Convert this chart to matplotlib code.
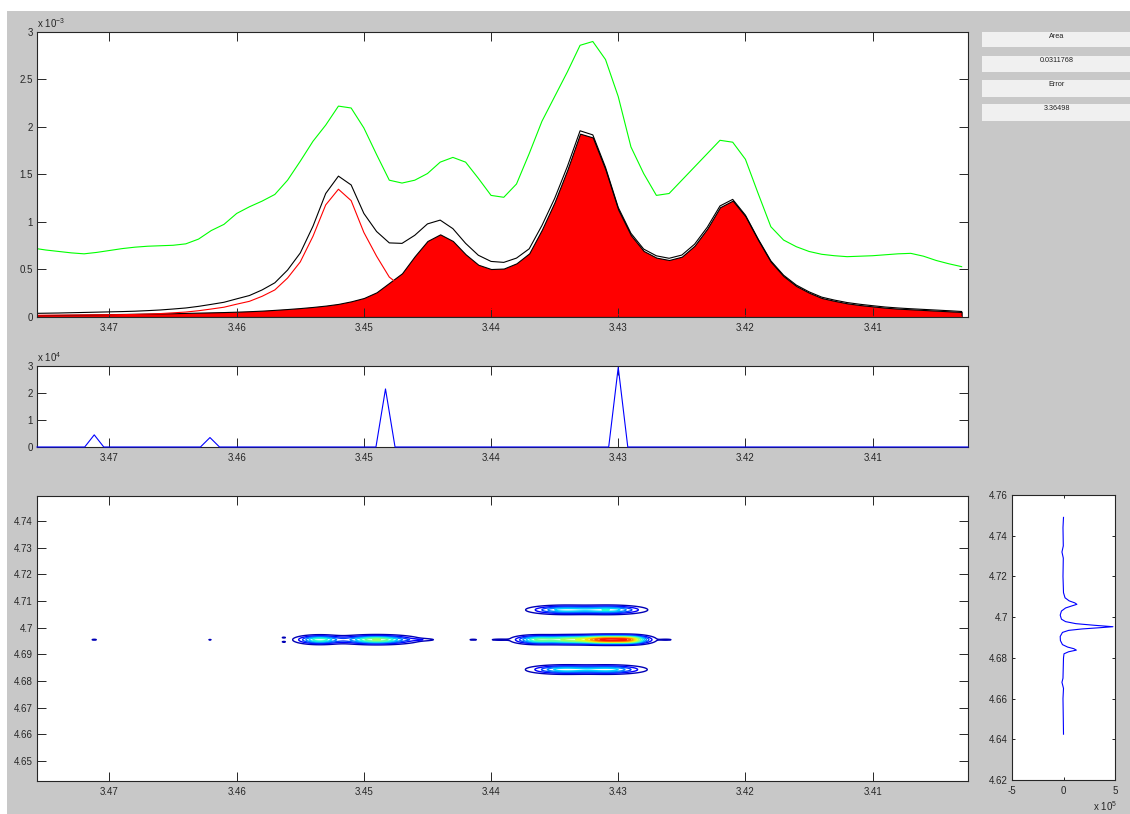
import numpy as np
import matplotlib
matplotlib.use("Agg")
import matplotlib.pyplot as plt
from matplotlib.patches import Rectangle
from matplotlib.ticker import FuncFormatter

plt.rcParams['font.family'] = ['Liberation Sans', 'DejaVu Sans']
plt.rcParams['font.size'] = 7
plt.rcParams['mathtext.fontset'] = 'custom'
plt.rcParams['mathtext.rm'] = 'Liberation Sans'

# 1D fit: chemical shift grid (ppm), values in units of 1e-3
ppm = np.round(np.arange(3.476, 3.4025, -0.001), 3)
measured = [0.725, 0.705, 0.69, 0.675, 0.665, 0.68, 0.70, 0.72, 0.735, 0.745,
            0.75, 0.755, 0.77, 0.82, 0.91, 0.975, 1.09, 1.16, 1.22, 1.29,
            1.44, 1.64, 1.85, 2.02, 2.22, 2.20, 1.99, 1.71, 1.44, 1.41,
            1.44, 1.51, 1.63, 1.68, 1.63, 1.46, 1.28, 1.26, 1.40, 1.72,
            2.06, 2.32, 2.58, 2.86, 2.90, 2.71, 2.32, 1.79, 1.51, 1.28,
            1.30, 1.44, 1.58, 1.72, 1.86, 1.84, 1.66, 1.30, 0.95, 0.81,
            0.74, 0.69, 0.66, 0.645, 0.635, 0.64, 0.645, 0.655, 0.665, 0.67,
            0.64, 0.595, 0.56, 0.53]
peak_a = [0.018, 0.019, 0.020, 0.021, 0.022, 0.023, 0.024, 0.025, 0.027, 0.031,
          0.036, 0.044, 0.052, 0.066, 0.084, 0.103, 0.135, 0.165, 0.218, 0.285,
          0.41, 0.58, 0.85, 1.18, 1.345, 1.225, 0.89, 0.64, 0.42, 0.315,
          0.22, 0.18, 0.15, 0.13, 0.115, 0.10, 0.08, 0.065, 0.055, 0.048,
          0.043, 0.038, 0.034, 0.030, 0.027, 0.025, 0.023, 0.021, 0.020, 0.019,
          0.018, 0.017, 0.016, 0.015, 0.014, 0.013, 0.012, 0.011, 0.011, 0.010,
          0.010, 0.009, 0.009, 0.008, 0.008, 0.008, 0.007, 0.007, 0.007, 0.006,
          0.006, 0.006, 0.006, 0.005]
peaks_bcd = [0.020, 0.021, 0.022, 0.024, 0.026, 0.028, 0.030, 0.032, 0.034, 0.036,
             0.038, 0.040, 0.043, 0.046, 0.049, 0.052, 0.056, 0.061, 0.067, 0.075,
             0.084, 0.094, 0.106, 0.120, 0.138, 0.165, 0.20, 0.26, 0.36, 0.46,
             0.64, 0.80, 0.87, 0.80, 0.66, 0.55, 0.505, 0.51, 0.565, 0.67,
             0.92, 1.21, 1.55, 1.93, 1.89, 1.55, 1.13, 0.86, 0.695, 0.625,
             0.60, 0.635, 0.75, 0.93, 1.155, 1.225, 1.06, 0.81, 0.58, 0.43,
             0.326, 0.256, 0.20, 0.17, 0.144, 0.126, 0.112, 0.098, 0.088, 0.081,
             0.074, 0.067, 0.060, 0.053]
total_fit = np.array(peak_a) + np.array(peaks_bcd)

# picked peaks (x 1e4)
pick_ppm = [3.4712, 3.4621, 3.4483, 3.4300]
pick_height = [0.45, 0.35, 2.15, 2.95]

# 2D cross peaks: centre x, centre y, amplitude, width x, width y
xpk_x = [3.4535, 3.4490,
         3.4365, 3.4340, 3.4310, 3.4290,
         3.4343, 3.4307, 3.4343, 3.4307,
         3.4712, 3.4621, 3.4563, 3.4563, 3.4455, 3.4414, 3.4394, 3.4262]
xpk_y = [4.6955, 4.6955,
         4.6955, 4.6955, 4.6955, 4.6955,
         4.7067, 4.7067, 4.6843, 4.6843,
         4.6955, 4.6955, 4.6963, 4.6947, 4.6955, 4.6955, 4.6955, 4.6955]
xpk_amp = [0.45, 0.55,
           0.40, 0.50, 0.85, 0.55,
           0.36, 0.38, 0.37, 0.36,
           0.07, 0.06, 0.06, 0.06, 0.08, 0.07, 0.08, 0.07]
xpk_wx = [0.0010, 0.0016,
          0.0010, 0.0013, 0.0013, 0.0009,
          0.0015, 0.0015, 0.0015, 0.0015,
          0.0002, 0.00015, 0.00015, 0.00015, 0.0008, 0.0003, 0.0005, 0.0004]
xpk_wy = [0.0009, 0.0009,
          0.0009, 0.0009, 0.0009, 0.0009,
          0.0009, 0.0009, 0.0009, 0.0009,
          0.0002, 0.00015, 0.0002, 0.0002, 0.0003, 0.0002, 0.0002, 0.0002]
contour_levels = [0.05, 0.12, 0.19, 0.26, 0.33, 0.40, 0.47, 0.54, 0.61,
                  0.68, 0.75, 0.82, 0.89, 0.96]

# projection along the indirect dimension (x 1e5)
proj_y = [4.7490, 4.7440, 4.7350, 4.7320, 4.7290, 4.7200, 4.7120, 4.7095, 4.7080,
          4.7070, 4.7063, 4.7055, 4.7045, 4.7030, 4.7010, 4.6990, 4.6978, 4.6968,
          4.6960, 4.6953, 4.6948, 4.6942, 4.6935, 4.6925, 4.6905, 4.6885, 4.6865,
          4.6853, 4.6845, 4.6838, 4.6830, 4.6820, 4.6800, 4.6700, 4.6680, 4.6650,
          4.6600, 4.6500, 4.6425]
proj_val = [0.0, -0.05, -0.02, -0.15, -0.02, -0.05, 0.0, 0.15, 0.55,
            1.1, 1.3, 0.8, 0.2, -0.2, -0.32, -0.2, 0.2, 1.2,
            3.0, 4.8, 3.5, 1.8, 0.5, -0.1, -0.32, -0.3, -0.1,
            0.4, 1.0, 1.25, 0.5, 0.05, 0.0, -0.05, -0.15, 0.0,
            -0.05, -0.02, 0.0]

info_labels = ['Area', '0.0311768', 'Error', '3.36498']

W, H = 1130, 814
fig = plt.figure(figsize=(W / 100, H / 100), dpi=100)
fig.patch.set_facecolor('white')
fig.patches.append(Rectangle((7 / W, 0), 1, (H - 11) / H, transform=fig.transFigure,
                             facecolor='#c8c8c8', edgecolor='none', zorder=-10))

INK = '#262626'
fmt = FuncFormatter(lambda v, p: '%g' % round(v, 4))


def px_axes(x0, y0, x1, y1):
    return fig.add_axes([x0 / W, 1 - y1 / H, (x1 - x0) / W, (y1 - y0) / H])


def matlab_style(ax, ticklen=6.5):
    ax.tick_params(direction='in', length=ticklen, width=0.7, top=True, right=True,
                   color=INK, labelcolor=INK, labelsize=7)
    ax.tick_params(axis='x', pad=4)
    ax.tick_params(axis='y', pad=3)
    for s in ax.spines.values():
        s.set_color(INK)
        s.set_linewidth(0.8)
    ax.xaxis.set_major_formatter(fmt)
    ax.yaxis.set_major_formatter(fmt)


x_ticks = [3.47, 3.46, 3.45, 3.44, 3.43, 3.42, 3.41]

# fitted spectrum
ax1 = px_axes(37, 32, 968, 317)
ax1.plot(ppm, peak_a, color='red', lw=0.8)
ax1.fill_between(ppm, 0, peaks_bcd, facecolor='red', edgecolor='black', lw=0.8)
ax1.plot(ppm, total_fit, color='black', lw=0.8)
ax1.plot(ppm, measured, color='#00ff00', lw=0.8)
ax1.set_xlim(3.4757, 3.4025)
ax1.set_ylim(0, 3)
ax1.set_xticks(x_ticks)
ax1.set_yticks([0, 0.5, 1, 1.5, 2, 2.5, 3])
matlab_style(ax1)
fig.text(37 / W, 1 - 23 / H, r'x 10$^{-3}$', ha='left', va='center', color=INK, fontsize=7)

# peak picking
ax2 = px_axes(37, 366, 968, 447)
hw = 0.00075
sx, sy = [3.4757], [0.0]
for p, h in zip(pick_ppm, pick_height):
    sx += [p + hw, p, p - hw]
    sy += [0.0, h, 0.0]
sx.append(3.4025)
sy.append(0.0)
ax2.plot(sx, sy, color='blue', lw=0.8, clip_on=False, zorder=3)
ax2.set_xlim(3.4757, 3.4025)
ax2.set_ylim(0, 3)
ax2.set_xticks(x_ticks)
ax2.set_yticks([0, 1, 2, 3])
matlab_style(ax2)
fig.text(37 / W, 1 - 357 / H, r'x 10$^{4}$', ha='left', va='center', color=INK, fontsize=7)

# 2D contour map
ax3 = px_axes(37, 496, 968, 781)
gx = np.arange(3.4025, 3.4757, 0.0001)
gy = np.arange(4.6425, 4.7494, 0.00005)
X, Y = np.meshgrid(gx, gy)
Z = np.zeros_like(X)
for cx, cy, a, wx, wy in zip(xpk_x, xpk_y, xpk_amp, xpk_wx, xpk_wy):
    Z += a * np.exp(-0.5 * ((X - cx) / wx) ** 2 - 0.5 * ((Y - cy) / wy) ** 2)
ax3.contour(X, Y, Z, levels=contour_levels, cmap='jet', vmin=0, vmax=1, linewidths=1.0)
ax3.set_xlim(3.4757, 3.4025)
ax3.set_ylim(4.6425, 4.7494)
ax3.set_xticks(x_ticks)
ax3.set_yticks([4.65, 4.66, 4.67, 4.68, 4.69, 4.70, 4.71, 4.72, 4.73, 4.74])
matlab_style(ax3)

# projection
ax4 = px_axes(1012, 495, 1115, 780)
ax4.plot(proj_val, proj_y, color='blue', lw=0.8)
ax4.set_xlim(-5, 5)
ax4.set_ylim(4.62, 4.76)
ax4.set_xticks([-5, 0, 5])
ax4.set_yticks([4.62, 4.64, 4.66, 4.68, 4.70, 4.72, 4.74, 4.76])
matlab_style(ax4, ticklen=2.2)
fig.text(1093 / W, 1 - 806 / H, r'x 10$^{5}$', ha='left', va='center', color=INK, fontsize=7)

# info panel
box_rows = [(32, 47), (56, 72), (80, 97), (104, 121)]
for (t, b), label in zip(box_rows, info_labels):
    fig.patches.append(Rectangle((982 / W, 1 - b / H), 150 / W, (b - t) / H,
                                 transform=fig.transFigure, facecolor='#f0f0f0',
                                 edgecolor='none', zorder=1))
    fig.text(1057 / W, 1 - (t + 5) / H, label, ha='center', va='center',
             fontsize=5.2, color='#202020')

fig.savefig('out.png', dpi=100, facecolor=fig.get_facecolor())
